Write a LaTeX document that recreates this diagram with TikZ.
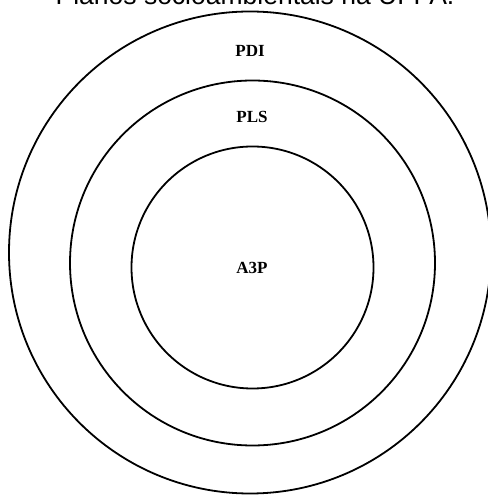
\documentclass[tikz,border=0pt]{standalone}
\usepackage{fontspec}
\setmainfont{Liberation Serif}
\newfontfamily\titlefont{Liberation Sans}
\usepackage{tikz}

\tikzset{
  ring/.style = {line width = 1.8pt},
  planlabel/.style = {font = \fontsize{17}{20}\selectfont\bfseries, inner sep = 0pt}
}

\begin{document}
\begin{tikzpicture}[x = 1pt, y = 1pt]
\useasboundingbox (0,0) rectangle (487,495);

\node[anchor = base, font = \titlefont\fontsize{26.5}{30}\selectfont, inner sep = 0pt] (title) at (255,490) {Planos socioambientais na UFPA.};

\draw[ring] (250,242.5) circle (241);
\draw[ring] (252.5,232) circle (182.5);
\draw[ring] (252.5,227.5) circle (121);

\node[planlabel] (pdi) at (250,444) {PDI};
\node[planlabel] (pls) at (252,378) {PLS};
\node[planlabel] (a3p) at (252,227) {A3P};
\end{tikzpicture}
\end{document}
